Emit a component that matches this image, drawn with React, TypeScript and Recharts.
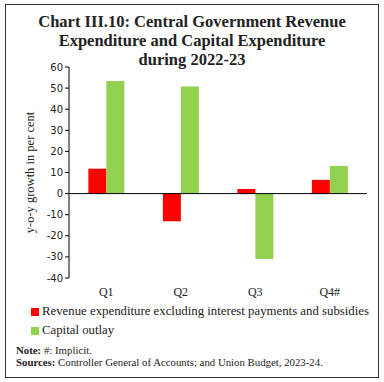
import { BarChart, Bar, XAxis, YAxis, ReferenceLine } from 'recharts'

const quarters = ['Q1', 'Q2', 'Q3', 'Q4#']
const revenueExp = [11.8, -13.1, 2.2, 6.5]
const capitalOutlay = [53.4, 50.7, -31.0, 13.1]
const yTicks = [-40, -30, -20, -10, 0, 10, 20, 30, 40, 50, 60]

const series = [
  { key: 'rev', name: 'Revenue expenditure excluding interest payments and subsidies', color: '#FF0000' },
  { key: 'cap', name: 'Capital outlay', color: '#92D050' },
]

const data = quarters.map((q, i) => ({ q, rev: revenueExp[i], cap: capitalOutlay[i] }))

const serif = '"Liberation Serif", "DejaVu Serif", serif'
const sans = '"DejaVu Sans", Verdana, sans-serif'

export default function App() {
  return (
    <div style={{ position: 'absolute', left: 0, top: 0, width: 384, height: 382, background: '#fff' }}>
      <div
        style={{
          position: 'absolute', left: 5, top: 4, width: 374, height: 374,
          border: '1px solid #333', boxSizing: 'border-box',
        }}
      />
      <div
        style={{
          position: 'absolute', left: 0, top: 12, width: 384, textAlign: 'center',
          fontFamily: serif, fontWeight: 'bold', fontSize: 16.5, lineHeight: '19px', color: '#222',
        }}
      >
        Chart III.10: Central Government Revenue
        <br />
        Expenditure and Capital Expenditure
        <br />
        during 2022-23
      </div>
      <div style={{ position: 'absolute', left: 0, top: 0 }}>
        <BarChart
          width={384}
          height={382}
          data={data}
          margin={{ top: 67, right: 17, left: 42, bottom: 84 }}
          barCategoryGap="26%"
          barGap={0}
        >
          <XAxis
            dataKey="q"
            axisLine={false}
            tickLine={false}
            height={20}
            tick={{ fontFamily: serif, fontSize: 12, fill: '#222' }}
            tickMargin={3}
          />
          <YAxis
            domain={[-40, 60]}
            ticks={yTicks}
            interval={0}
            width={27}
            axisLine={{ stroke: '#000' }}
            tickLine={{ stroke: '#000' }}
            tickSize={4}
            tick={{ fontFamily: sans, fontSize: 10, fill: '#222' }}
            label={{
              value: 'y-o-y growth in per cent', angle: -90, position: 'center', dx: -26,
              style: { fontFamily: serif, fontSize: 12.5, fill: '#222', textAnchor: 'middle' },
            }}
          />
          <ReferenceLine y={0} stroke="#000" />
          {series.map((s) => (
            <Bar key={s.key} dataKey={s.key} name={s.name} fill={s.color} isAnimationActive={false} />
          ))}
        </BarChart>
      </div>
      <div style={{ position: 'absolute', left: 31, top: 302, fontFamily: serif, fontSize: 12.8, color: '#222' }}>
        {series.map((s) => (
          <div key={s.key} style={{ display: 'flex', alignItems: 'center', height: 19 }}>
            <span style={{ width: 8, height: 8, background: s.color, display: 'inline-block', marginRight: 3 }} />
            {s.name}
          </div>
        ))}
      </div>
      <div
        style={{
          position: 'absolute', left: 16, top: 344, fontFamily: serif, fontSize: 10.8,
          lineHeight: '12px', color: '#222',
        }}
      >
        <div><b>Note:</b> #: Implicit.</div>
        <div><b>Sources:</b> Controller General of Accounts; and Union Budget, 2023-24.</div>
      </div>
    </div>
  )
}
